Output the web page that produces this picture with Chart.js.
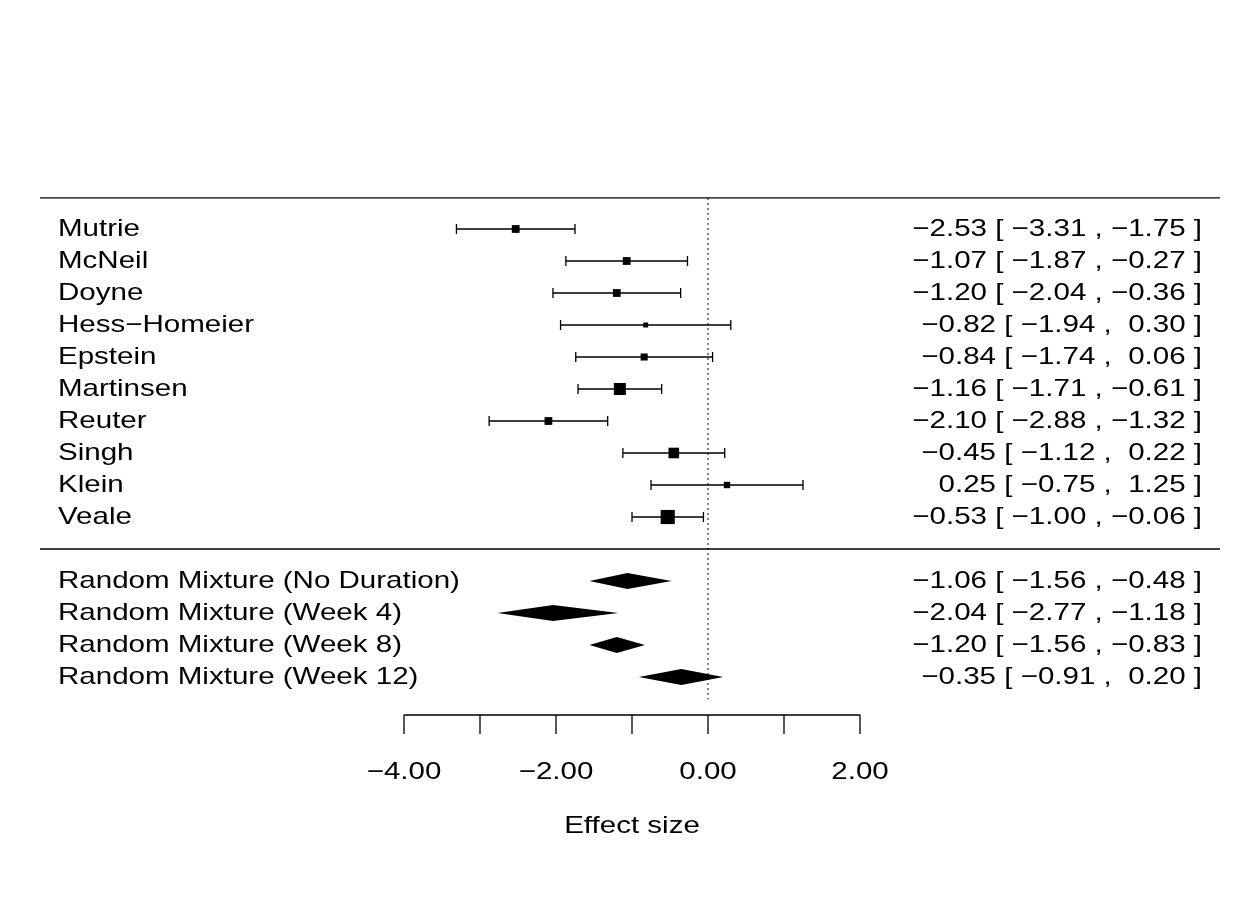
<!DOCTYPE html>
<html>
<head>
<script src="https://cdn.jsdelivr.net/npm/chart.js@4"></script>
<style>body{margin:0;background:#fff}</style>
</head>
<body>
<canvas id="c" width="1260" height="900"></canvas>
<script>
const studies = ["Mutrie", "McNeil", "Doyne", "Hess\u2212Homeier", "Epstein", "Martinsen", "Reuter", "Singh", "Klein", "Veale"];
const est = [-2.53, -1.07, -1.20, -0.82, -0.84, -1.16, -2.10, -0.45, 0.25, -0.53];
const lo = [-3.31, -1.87, -2.04, -1.94, -1.74, -1.71, -2.88, -1.12, -0.75, -1.00];
const hi = [-1.75, -0.27, -0.36, 0.30, 0.06, -0.61, -1.32, 0.22, 1.25, -0.06];
const boxSize = [5.5, 5.5, 5.5, 3.5, 5, 8.5, 5.5, 7.5, 4.5, 10];

const models = ["Random Mixture (No Duration)", "Random Mixture (Week 4)", "Random Mixture (Week 8)", "Random Mixture (Week 12)"];
const mEst = [-1.06, -2.04, -1.20, -0.35];
const mLo = [-1.56, -2.77, -1.56, -0.91];
const mHi = [-0.48, -1.18, -0.83, 0.20];

const xTicks = [-4, -3, -2, -1, 0, 1, 2];
const xLabels = [-4, -2, 0, 2];

const FONT = "24px 'Liberation Sans', Arial, sans-serif";
const SX = 1.23; // horizontal stretch of text
const fmt = v => (v < 0 ? "\u2212" : " ") + Math.abs(v).toFixed(2);
const ci = (e, l, h) => fmt(e) + " [ " + fmt(l) + " , " + fmt(h) + " ]";

function text(ctx, s, x, y, align) {
  ctx.save();
  ctx.translate(x, y); ctx.scale(SX, 1);
  ctx.textAlign = align; ctx.fillText(s, 0, 0);
  ctx.restore();
}

const forest = {
  id: "forest",
  afterDatasetsDraw(chart) {
    const ctx = chart.ctx, x = chart.scales.x, y = chart.scales.y;
    ctx.save();
    ctx.strokeStyle = "#000"; ctx.fillStyle = "#000"; ctx.lineWidth = 1.3;
    [y.getPixelForValue(-0.97), y.getPixelForValue(10)].forEach(py => {
      ctx.beginPath(); ctx.moveTo(40, py); ctx.lineTo(1220, py); ctx.stroke();
    });
    ctx.setLineDash([2, 3]); ctx.lineWidth = 1;
    ctx.beginPath(); ctx.moveTo(x.getPixelForValue(0), y.getPixelForValue(-0.97));
    ctx.lineTo(x.getPixelForValue(0), y.getPixelForValue(14.7)); ctx.stroke();
    ctx.setLineDash([]); ctx.lineWidth = 1.3;
    studies.forEach((s, i) => {
      const py = y.getPixelForValue(i), a = x.getPixelForValue(lo[i]), b = x.getPixelForValue(hi[i]);
      ctx.beginPath(); ctx.moveTo(a, py); ctx.lineTo(b, py);
      ctx.moveTo(a, py - 5); ctx.lineTo(a, py + 5);
      ctx.moveTo(b, py - 5); ctx.lineTo(b, py + 5); ctx.stroke();
    });
    models.forEach((m, i) => {
      const py = y.getPixelForValue(11 + i);
      ctx.beginPath();
      ctx.moveTo(x.getPixelForValue(mLo[i]), py);
      ctx.lineTo(x.getPixelForValue(mEst[i]), py - 8);
      ctx.lineTo(x.getPixelForValue(mHi[i]), py);
      ctx.lineTo(x.getPixelForValue(mEst[i]), py + 8);
      ctx.closePath(); ctx.fill();
    });
    ctx.font = FONT; ctx.textBaseline = "middle";
    const rows = studies.map((s, i) => [s, ci(est[i], lo[i], hi[i]), i])
      .concat(models.map((m, i) => [m, ci(mEst[i], mLo[i], mHi[i]), 11 + i]));
    rows.forEach(([l, r, v]) => {
      const py = y.getPixelForValue(v);
      text(ctx, l, 58, py, "left");
      text(ctx, r, 1202, py, "right");
    });
    const ay = 715;
    ctx.beginPath(); ctx.moveTo(x.getPixelForValue(-4), ay); ctx.lineTo(x.getPixelForValue(2), ay);
    xTicks.forEach(t => { const px = x.getPixelForValue(t); ctx.moveTo(px, ay); ctx.lineTo(px, ay + 19); });
    ctx.stroke();
    xLabels.forEach(t => text(ctx, fmt(t).trim(), x.getPixelForValue(t), 772, "center"));
    text(ctx, "Effect size", (x.getPixelForValue(-4) + x.getPixelForValue(2)) / 2, 826, "center");
    ctx.restore();
  }
};

new Chart(document.getElementById("c"), {
  type: "scatter",
  data: {
    datasets: [{
      data: studies.map((s, i) => ({ x: est[i], y: i })),
      pointStyle: "rect",
      pointRadius: boxSize,
      pointHoverRadius: boxSize,
      backgroundColor: "#000",
      borderColor: "#000",
      borderWidth: 0,
      clip: false
    }]
  },
  options: {
    responsive: false,
    animation: false,
    layout: { padding: { left: 404, right: 400, top: 197, bottom: 185 } },
    plugins: { legend: { display: false }, tooltip: { enabled: false } },
    scales: {
      x: { type: "linear", min: -4, max: 2, display: false },
      y: { type: "linear", reverse: true, min: -1, max: 15.1875, display: false }
    }
  },
  plugins: [forest]
});
</script>
</body>
</html>
